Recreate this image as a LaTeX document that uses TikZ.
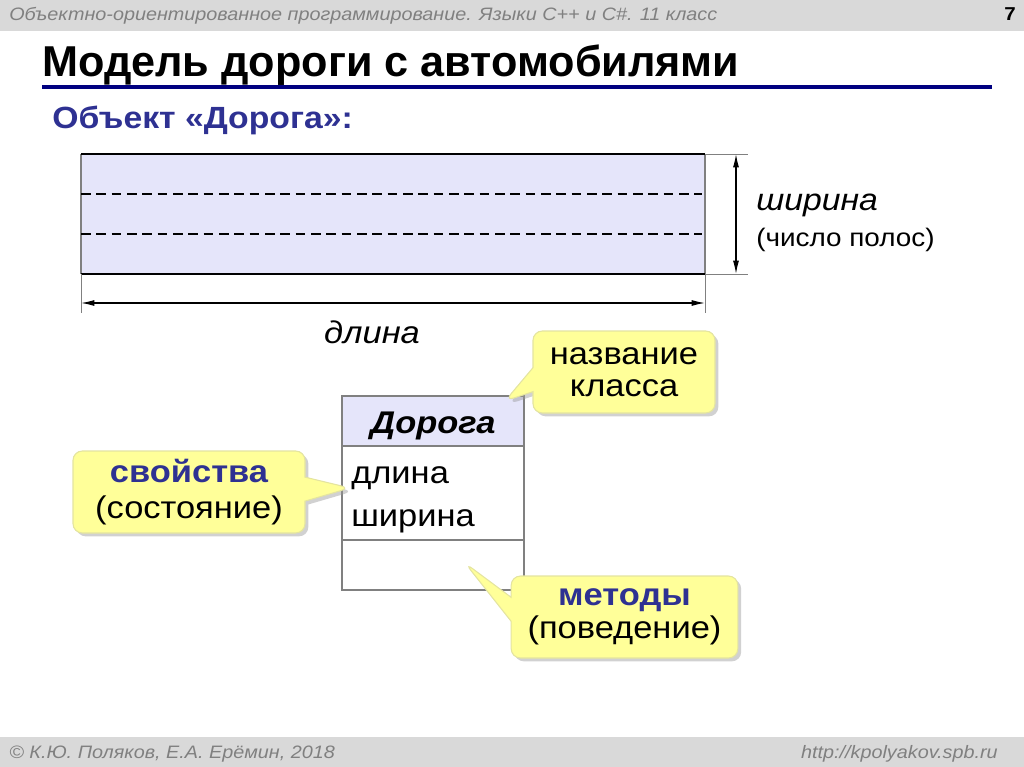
\documentclass[tikz,border=0pt]{standalone}
\usepackage{fontspec}
\setmainfont[FakeStretch=1.1]{Liberation Sans}
\newfontfamily\titlefont[FakeStretch=1.0]{Liberation Sans}
\usetikzlibrary{shapes.callouts,shadows,arrows.meta}
\definecolor{bargray}{RGB}{217,217,217}
\definecolor{txtgray}{RGB}{128,128,128}
\definecolor{navy}{RGB}{0,0,128}
\definecolor{dblue}{RGB}{46,49,146}
\definecolor{lav}{RGB}{229,229,250}
\definecolor{cyellow}{RGB}{255,255,153}
\definecolor{cedge}{RGB}{228,228,160}
\tikzset{
  callbox/.style={rectangle callout, rounded corners=7pt, fill=cyellow, draw=cedge, line width=0.8pt,
    align=center, inner sep=0pt, font=\fontsize{23.5}{24}\selectfont, callout pointer width=18pt,
    drop shadow={shadow xshift=2.5pt, shadow yshift=-2.5pt, fill=black!40, opacity=0.45}},
  dimarrow/.style={line width=0.9pt, {Latex[length=10pt,width=4.5pt]}-{Latex[length=10pt,width=4.5pt]}},
  extline/.style={draw=txtgray, line width=0.6pt},
  cellbox/.style={draw=txtgray, line width=0.8pt},
  plain/.style={inner sep=0pt, font=\fontsize{23.5}{28}\selectfont},
  bartext/.style={inner sep=0pt, text=txtgray, font=\itshape\fontsize{13.5}{16}\selectfont},
  lanemark/.style={black, line width=2.1pt, dash pattern=on 7.2pt off 4.3pt},
}
\begin{document}
\begin{tikzpicture}[x=0.75pt,y=-0.75pt]
\path[use as bounding box] (0,0) rectangle (1024,767);
% header and footer bars
\fill[bargray] (0,0) rectangle (1024,31);
\fill[bargray] (0,737) rectangle (1024,767);
\node[bartext, anchor=base west] (hdr) at (9,21) {Объектно-ориентированное программирование. Языки C++ и C\#. 11 класс};
\node[anchor=base east, inner sep=0pt, font=\bfseries\fontsize{14}{16}\selectfont] (pg) at (1016,21) {7};
\node[bartext, anchor=base west] (copy) at (9,758) {© К.Ю. Поляков, Е.А. Ерёмин, 2018};
\node[bartext, anchor=base east] (url) at (998,758) {http://kpolyakov.spb.ru};
% title
\node[anchor=base west, inner sep=0pt, font=\titlefont\bfseries\fontsize{32.4}{36}\selectfont] (title) at (42,77) {Модель дороги с автомобилями};
\draw[navy, line width=3pt] (42,87) -- (992,87);
\node[anchor=base west, inner sep=0pt, text=dblue, font=\bfseries\fontsize{23}{26}\selectfont] (obj) at (52,128) {Объект «Дорога»:};
% road
\fill[lav] (81,154) rectangle (705,274);
\draw[txtgray, line width=0.8pt] (81,154) -- (81,274) (705,154) -- (705,274);
\draw[black, line width=1.5pt] (81,154) -- (705,154) (81,274) -- (705,274);
\draw[lanemark] (81,194) -- (702,194);
\draw[lanemark] (81,234) -- (702,234);
% dimensions
\coordinate (rt) at (736,154); \coordinate (rb) at (736,274);
\coordinate (bl) at (81,303); \coordinate (br) at (705,303);
\draw[extline] (705,154) -- (748,154) (705,274) -- (748,274);
\draw[extline] (81,274) -- (81,313) (705,274) -- (705,313);
\draw[dimarrow] (rt) -- (rb);
\draw[dimarrow] (bl) -- (br);
\node[plain, anchor=base west, font=\itshape\fontsize{23}{28}\selectfont] (wid) at (756,210) {ширина};
\node[plain, anchor=base west, font=\fontsize{19}{22}\selectfont] (lanes) at (756,246) {(число полос)};
\node[plain, anchor=base, font=\itshape\fontsize{23.5}{28}\selectfont] (len) at (372,343) {длина};
% class box
\fill[lav] (342,396) rectangle (524,446);
\draw[cellbox] (342,396) rectangle (524,590);
\draw[cellbox] (342,446) -- (524,446) (342,540) -- (524,540);
\node[plain, anchor=base, font=\bfseries\itshape\fontsize{23.5}{28}\selectfont] (cname) at (433,433) {Дорога};
\node[plain, anchor=base west] (a1) at (351,483) {длина};
\node[plain, anchor=base west] (a2) at (351,526) {ширина};
% callouts
\node[callbox, minimum width=136.5pt, minimum height=61.5pt, callout absolute pointer={(505,401)}] (cn) at (624,372) {название\\класса};
\node[callbox, minimum width=174pt, minimum height=61.5pt, callout absolute pointer={(350,488)}] (cp) at (189,492) {\textcolor{dblue}{\bfseries свойства}\\[3pt](состояние)};
\node[callbox, minimum width=170pt, minimum height=61.5pt, callout absolute pointer={(465,563)}] (cm) at (624.5,617) {\textcolor{dblue}{\bfseries методы}\\[1pt](поведение)};
\end{tikzpicture}
\end{document}
